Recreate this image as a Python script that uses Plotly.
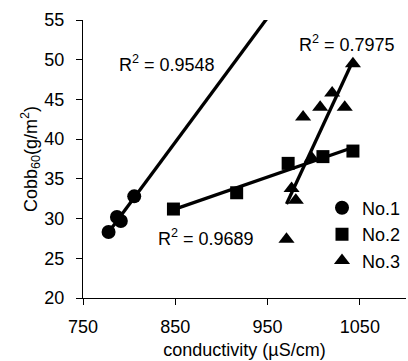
import numpy as np
import plotly.graph_objects as go

# Data
no1_x = [777.7, 786.8, 791.0, 805.5]
no1_y = [28.3, 30.2, 29.7, 32.8]
no2_x = [848.0, 916.5, 972.3, 1010.0, 1042.5]
no2_y = [31.2, 33.25, 36.95, 37.8, 38.5]
no3_x = [970.5, 976.0, 980.6, 988.5, 998.0, 1007.0, 1020.0, 1033.6, 1042.5]
no3_y = [27.4, 33.8, 32.3, 42.8, 37.6, 44.0, 45.8, 44.0, 49.5]
series_names = ["No.1", "No.2", "No.3"]
r2_labels = ["R<sup>2</sup> = 0.9548", "R<sup>2</sup> = 0.9689", "R<sup>2</sup> = 0.7975"]
x_ticks = [750, 850, 950, 1050]
y_ticks = [20, 25, 30, 35, 40, 45, 50, 55]

FONT = "Liberation Sans, Arial, sans-serif"
FS = 18

def fit_line(xs, ys, x_end=None):
    a, b = np.polyfit(xs, ys, 1)
    x0 = min(xs)
    x1 = max(xs) if x_end is None else x_end
    return [x0, x1], [a * x0 + b, a * x1 + b]

fig = go.Figure()

# trendlines
lx, ly = fit_line(no1_x, no1_y, x_end=1000)
fig.add_trace(go.Scatter(x=lx, y=ly, mode="lines", line=dict(color="black", width=3.3), showlegend=False, hoverinfo="skip"))
lx, ly = fit_line(no2_x, no2_y)
fig.add_trace(go.Scatter(x=lx, y=ly, mode="lines", line=dict(color="black", width=3.3), showlegend=False, hoverinfo="skip"))
lx, ly = fit_line(no3_x, no3_y)
fig.add_trace(go.Scatter(x=lx, y=ly, mode="lines", line=dict(color="black", width=3.3), showlegend=False, hoverinfo="skip"))

# points
fig.add_trace(go.Scatter(x=no1_x, y=no1_y, mode="markers", name=series_names[0],
                         marker=dict(symbol="circle", size=14, color="black")))
fig.add_trace(go.Scatter(x=no2_x, y=no2_y, mode="markers", name=series_names[1],
                         marker=dict(symbol="square", size=13, color="black")))
fig.add_trace(go.Scatter(x=no3_x, y=no3_y, mode="markers", name=series_names[2],
                         marker=dict(symbol="triangle-up", size=14, color="black")))

# annotation centres in pixels: (167,63), (207,238), (347,44) -> paper
ann_pos = [(0.26, 0.845), (0.382, 0.216), (0.817, 0.914)]
for (ax, ay), txt in zip(ann_pos, r2_labels):
    fig.add_annotation(x=ax, y=ay, xref="paper", yref="paper", text=txt, showarrow=False,
                       xanchor="center", yanchor="middle",
                       font=dict(family=FONT, size=FS, color="black"))

fig.update_layout(
    width=408, height=361,
    margin=dict(l=83, r=2, t=20, b=63, autoexpand=False),
    paper_bgcolor="white", plot_bgcolor="white",
    font=dict(family=FONT, size=FS, color="black"),
    legend=dict(x=1.0, y=0.39, xanchor="right", yanchor="top", bgcolor="rgba(0,0,0,0)",
                font=dict(family=FONT, size=FS, color="black"), itemwidth=30,
                tracegroupgap=0),
    xaxis=dict(range=[750, 1100], tickvals=x_ticks, showgrid=False, zeroline=False,
               showline=True, linecolor="black", linewidth=1, ticks="outside", ticklen=6,
               tickcolor="black", tickfont=dict(size=FS), ticklabelstandoff=6,
               title=dict(text="conductivity (µS/cm)", font=dict(size=FS), standoff=7)),
    yaxis=dict(range=[20, 55], tickvals=y_ticks, showgrid=False, zeroline=False,
               showline=True, linecolor="black", linewidth=1, ticks="outside", ticklen=6,
               tickcolor="black", tickfont=dict(size=FS), ticklabelstandoff=8,
               title=dict(text="Cobb<sub>60</sub>(g/m<sup>2</sup>)", font=dict(size=FS), standoff=2)),
)

fig.write_html("out.html")
